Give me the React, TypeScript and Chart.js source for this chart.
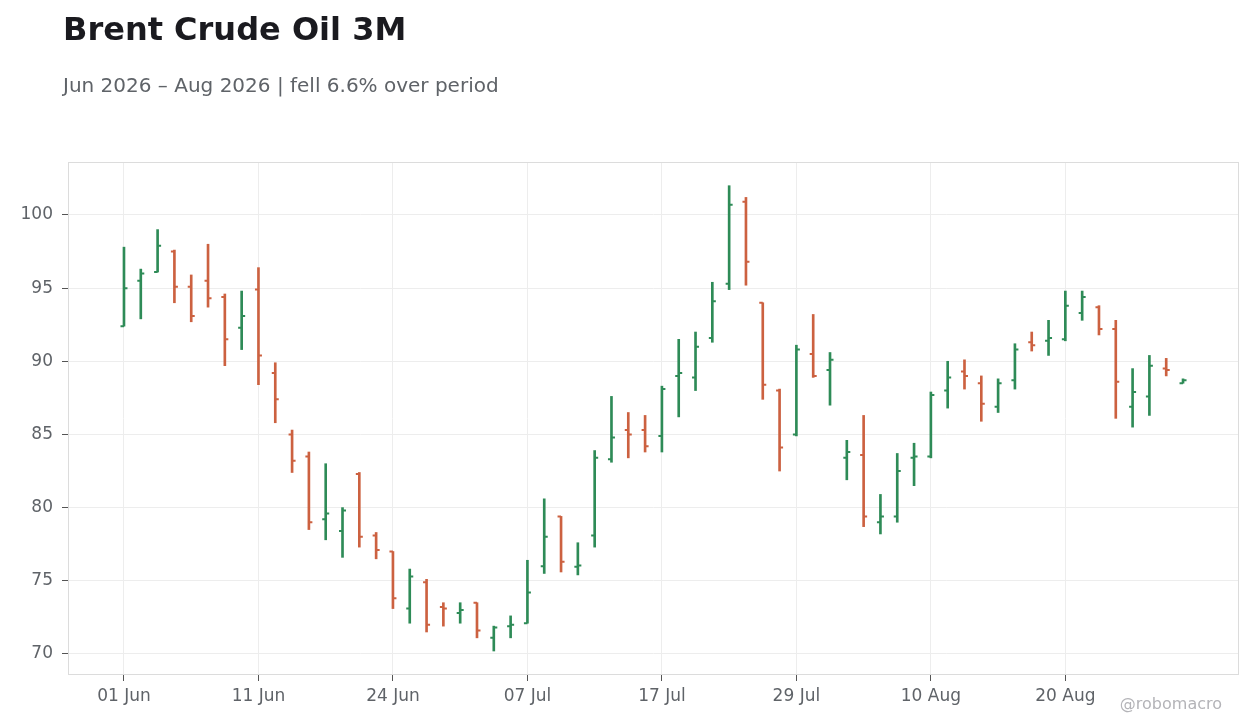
import { useEffect, useRef } from "react";
import { Chart, registerables } from "chart.js";

Chart.register(...registerables);

// trading days, Jun - Aug 2026
const dates = [
  "01 Jun", "02 Jun", "03 Jun", "04 Jun", "05 Jun", "08 Jun", "09 Jun", "10 Jun", "11 Jun", "12 Jun",
  "15 Jun", "16 Jun", "17 Jun", "18 Jun", "22 Jun", "23 Jun", "24 Jun", "25 Jun", "26 Jun", "29 Jun",
  "30 Jun", "01 Jul", "02 Jul", "06 Jul", "07 Jul", "08 Jul", "09 Jul", "10 Jul", "13 Jul", "14 Jul",
  "15 Jul", "16 Jul", "17 Jul", "20 Jul", "21 Jul", "22 Jul", "23 Jul", "24 Jul", "27 Jul", "28 Jul",
  "29 Jul", "30 Jul", "31 Jul", "03 Aug", "04 Aug", "05 Aug", "06 Aug", "07 Aug", "10 Aug", "11 Aug",
  "12 Aug", "13 Aug", "14 Aug", "17 Aug", "18 Aug", "19 Aug", "20 Aug", "21 Aug", "24 Aug", "25 Aug",
  "26 Aug", "27 Aug", "28 Aug", "31 Aug",
];

const opens = [
  92.4, 95.5, 96.1, 97.5, 95.1, 95.5, 94.4, 92.3, 94.9, 89.2,
  85.0, 83.5, 79.2, 78.4, 82.3, 78.1, 77.0, 73.1, 74.9, 73.2,
  72.8, 73.5, 71.1, 71.9, 72.1, 76.0, 79.4, 75.95, 78.1, 83.3,
  85.3, 85.3, 84.9, 89.0, 88.9, 91.6, 95.3, 100.9, 94.0, 88.0,
  85.0, 90.5, 89.4, 83.4, 83.6, 79.0, 79.4, 83.4, 83.5, 88.0,
  89.3, 88.5, 86.9, 88.7, 91.3, 91.4, 91.5, 93.3, 93.7, 92.2,
  86.9, 87.6, 89.5, 88.5,
];

const highs = [
  97.8, 96.3, 99.0, 97.6, 95.9, 98.0, 94.6, 94.8, 96.4, 89.9,
  85.3, 83.8, 83.0, 80.0, 82.4, 78.3, 77.0, 75.8, 75.1, 73.5,
  73.5, 73.5, 71.9, 72.6, 76.4, 80.6, 79.4, 77.6, 83.9, 87.6,
  86.5, 86.3, 88.3, 91.5, 92.0, 95.4, 102.0, 101.2, 94.0, 88.1,
  91.1, 93.2, 90.6, 84.6, 86.3, 80.9, 83.7, 84.4, 87.9, 90.0,
  90.1, 89.0, 88.8, 91.2, 92.0, 92.8, 94.8, 94.8, 93.8, 92.8,
  89.5, 90.4, 90.2, 88.8,
];

const lows = [
  92.4, 92.9, 96.1, 94.0, 92.7, 93.7, 89.7, 90.8, 88.4, 85.8,
  82.4, 78.5, 77.8, 76.6, 77.3, 76.5, 73.1, 72.1, 71.5, 71.9,
  72.1, 71.1, 70.2, 71.1, 72.1, 75.5, 75.6, 75.4, 77.3, 83.1,
  83.4, 83.8, 83.8, 86.2, 88.0, 91.3, 94.9, 95.2, 87.4, 82.5,
  84.9, 88.9, 87.0, 81.9, 78.7, 78.2, 79.0, 81.5, 83.4, 86.8,
  88.1, 85.9, 86.5, 88.1, 90.7, 90.4, 91.4, 92.8, 91.8, 86.1,
  85.5, 86.3, 89.0, 88.5,
];

const closes = [
  95.0, 96.0, 97.9, 95.1, 93.1, 94.3, 91.5, 93.1, 90.4, 87.4,
  83.2, 79.0, 79.6, 79.8, 78.0, 77.1, 73.8, 75.3, 72.0, 73.1,
  73.0, 71.6, 71.8, 72.0, 74.2, 78.0, 76.3, 76.05, 83.4, 84.8,
  85.0, 84.2, 88.1, 89.2, 91.0, 94.1, 100.7, 96.8, 88.4, 84.1,
  90.8, 89.0, 90.1, 83.8, 79.4, 79.4, 82.5, 83.5, 87.7, 88.9,
  89.0, 87.1, 88.5, 90.8, 91.1, 91.6, 93.8, 94.4, 92.2, 88.6,
  87.9, 89.7, 89.4, 88.7,
];

// positions (in trading days) of the labelled x ticks
const xTickIdx = [0, 8, 16, 24, 32, 40, 48, 56];
const yTicks = [70, 75, 80, 85, 90, 95, 100];

const UP = "#2e8b57";
const DOWN = "#cc6140";
const TEXT = "#5f6368";
const FONT = "'DejaVu Sans', sans-serif";

const colorFor = (i: number) => (closes[i] >= opens[i] ? UP : DOWN);

// open / close ticks on each high-low bar
const ohlcTicks = {
  id: "ohlcTicks",
  afterDatasetsDraw(chart: any) {
    const { ctx, scales } = chart;
    const x = scales.x;
    const y = scales.y;
    ctx.save();
    ctx.lineWidth = 2;
    dates.forEach((_, i) => {
      const cx = x.getPixelForValue(i);
      ctx.strokeStyle = colorFor(i);
      const yo = y.getPixelForValue(opens[i]);
      const yc = y.getPixelForValue(closes[i]);
      ctx.beginPath();
      ctx.moveTo(cx - 3.5, yo);
      ctx.lineTo(cx, yo);
      ctx.moveTo(cx, yc);
      ctx.lineTo(cx + 3.5, yc);
      ctx.stroke();
    });
    ctx.restore();
  },
};

const frame = {
  id: "frame",
  afterDraw(chart: any) {
    const { ctx, chartArea } = chart;
    ctx.save();
    ctx.strokeStyle = "#dcdcdc";
    ctx.lineWidth = 1;
    ctx.strokeRect(
      chartArea.left + 0.5,
      chartArea.top + 0.5,
      chartArea.right - chartArea.left - 1,
      chartArea.bottom - chartArea.top - 1,
    );
    ctx.restore();
  },
};

function OhlcChart() {
  const chartRef = useRef<HTMLCanvasElement>(null);

  useEffect(() => {
    if (!chartRef.current) return;
    const ctx = chartRef.current.getContext("2d");
    if (!ctx) return;

    const chart = new Chart(ctx, {
      type: "bar",
      data: {
        datasets: [
          {
            label: "Brent",
            data: dates.map((_, i) => ({ x: i, y: [lows[i], highs[i]] })) as any,
            backgroundColor: dates.map((_, i) => colorFor(i)),
            borderWidth: 0,
            barThickness: 2,
            grouped: false,
          },
        ],
      },
      options: {
        animation: false,
        responsive: true,
        maintainAspectRatio: false,
        layout: { padding: { top: 162, right: 21, left: 0, bottom: 0 } },
        plugins: {
          legend: { display: false },
          tooltip: { enabled: false },
        },
        scales: {
          x: {
            type: "linear",
            min: -3.33,
            max: 66.33,
            offset: false,
            afterFit: (scale: any) => {
              scale.height = 53;
            },
            afterBuildTicks: (scale: any) => {
              scale.ticks = xTickIdx.map((v) => ({ value: v }));
            },
            grid: {
              offset: false,
              color: "#ededed",
              tickLength: 6,
              tickColor: "#555",
            },
            border: { display: false },
            ticks: {
              color: TEXT,
              padding: 5,
              maxRotation: 0,
              font: { family: FONT, size: 17 },
              callback: (value: any) => dates[value] ?? "",
            },
          },
          y: {
            min: 68.56,
            max: 103.62,
            afterFit: (scale: any) => {
              scale.width = 68;
            },
            afterBuildTicks: (scale: any) => {
              scale.ticks = yTicks.map((v) => ({ value: v }));
            },
            grid: {
              color: "#ededed",
              tickLength: 6,
              tickColor: "#555",
            },
            border: { display: false },
            ticks: {
              color: TEXT,
              padding: 9,
              font: { family: FONT, size: 17 },
            },
          },
        },
      },
      plugins: [ohlcTicks, frame],
    });

    return () => chart.destroy();
  }, []);

  return (
    <div style={{ position: "absolute", left: 0, top: 0, width: 1260, height: 728 }}>
      <canvas ref={chartRef} />
    </div>
  );
}

export default function App() {
  return (
    <div
      style={{
        position: "absolute",
        left: 0,
        top: 0,
        width: 1260,
        height: 728,
        background: "#fff",
        fontFamily: FONT,
        overflow: "hidden",
      }}
    >
      <OhlcChart />
      <div
        style={{
          position: "absolute",
          left: 63,
          top: 13,
          fontSize: 32,
          lineHeight: "32px",
          fontWeight: "bold",
          color: "#1a1a1f",
          whiteSpace: "nowrap",
        }}
      >
        Brent Crude Oil 3M
      </div>
      <div
        style={{
          position: "absolute",
          left: 63,
          top: 75,
          fontSize: 20,
          lineHeight: "20px",
          color: TEXT,
          whiteSpace: "nowrap",
        }}
      >
        Jun 2026 – Aug 2026 | fell 6.6% over period
      </div>
      <div
        style={{
          position: "absolute",
          right: 38,
          top: 696,
          fontSize: 16,
          lineHeight: "16px",
          color: "#b4b4b8",
          whiteSpace: "nowrap",
        }}
      >
        @robomacro
      </div>
    </div>
  );
}
